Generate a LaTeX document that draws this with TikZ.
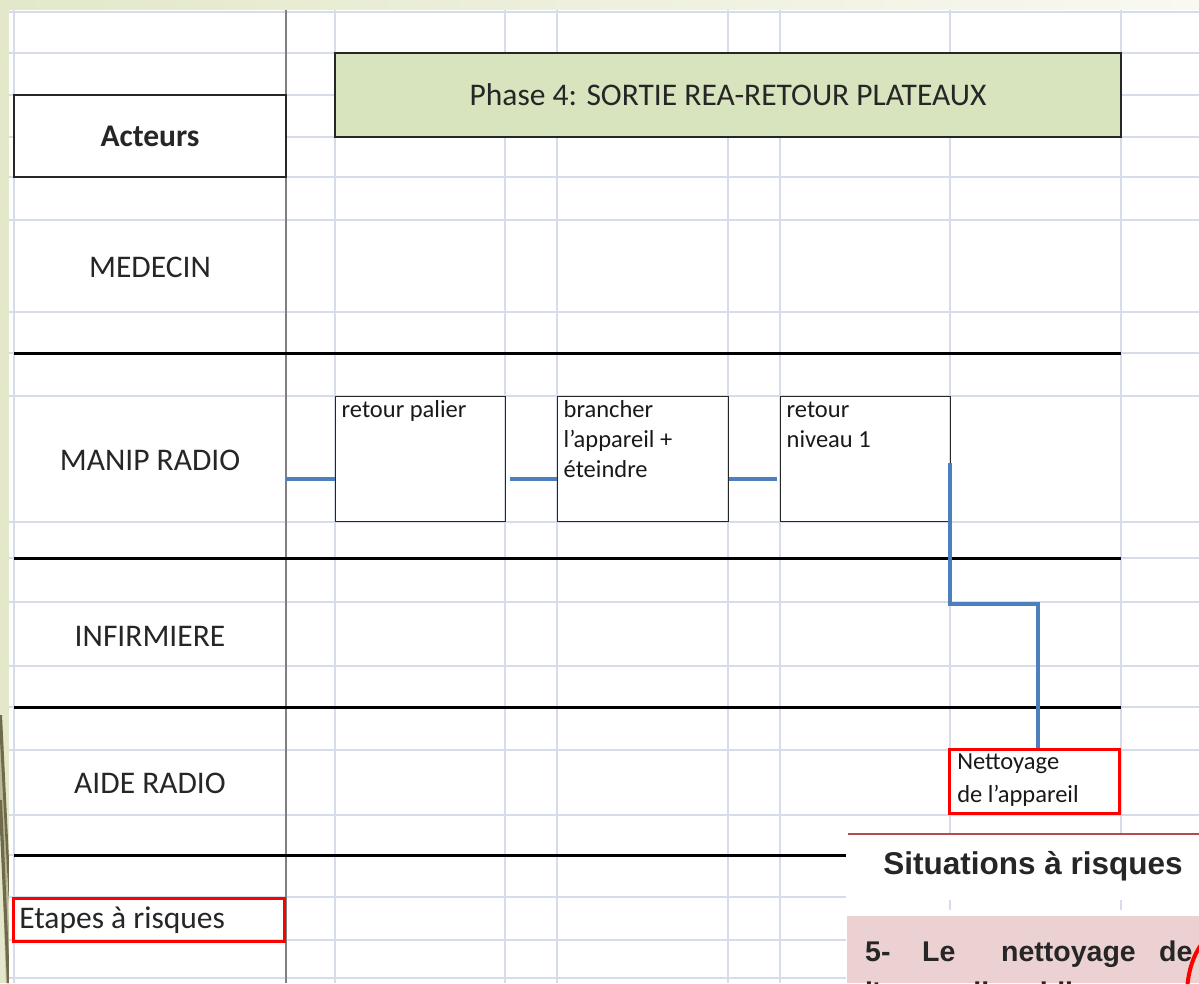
\documentclass[tikz,border=0pt]{standalone}
\usepackage{fontspec}
\setmainfont{Carlito}
\newfontfamily\arialf{Liberation Sans}
\definecolor{slidebg}{HTML}{E2E8C9}
\definecolor{slidebgr}{HTML}{F8F9F1}
\definecolor{gridc}{HTML}{D6DCE9}
\definecolor{flowc}{HTML}{4C7FBC}
\definecolor{greenf}{HTML}{D7E4BD}
\definecolor{pinkf}{HTML}{EBD1D1}
\definecolor{olive}{HTML}{6E6A4B}
\definecolor{olivel}{HTML}{B9B795}
\tikzset{
  gridl/.style={gridc, line width=1.2pt},
  lane/.style={black, line width=3pt},
  flow/.style={flowc, line width=4pt},
  bigfont/.style={font=\fontsize{31.5}{36}\selectfont},
  lbl/.style={bigfont, text=black!85},
  procbox/.style={draw=black!85, line width=1.4pt, anchor=north west, inner sep=0pt, align=left},
  riskbox/.style={draw=red, line width=2.5pt, anchor=north west, inner sep=0pt, align=left},
  small/.style={font=\fontsize{24.5}{30}\selectfont, text=black!90},
  panelfont/.style={font=\arialf\bfseries\fontsize{28.5}{32}\selectfont, text=black!85, anchor=base west, inner sep=0pt},
}
\begin{document}
\begin{tikzpicture}[x=1pt,y=-1pt]
\useasboundingbox (0,0) rectangle (1199,983);
\clip (0,0) rectangle (1199,983);
% slide background
\fill[slidebg] (0,0) rectangle (1199,983);
\shade[left color=slidebg, right color=slidebgr] (0,0) rectangle (1199,10);
\fill[olivel] (0,745) -- (3,745) -- (9,930) -- (9,983) -- (6,983) -- (0,800) -- cycle;
\fill[olive] (0,715) -- (2,715) -- (9,860) -- (9,905) -- (0,740) -- cycle;
\fill[olive] (0,800) -- (2,800) -- (9,960) -- (9,983) -- (7,983) -- (0,830) -- cycle;
\fill[white] (9,10) rectangle (1199,983);
% spreadsheet grid
\foreach \y in {12,53,95,137,177,220,312,353,396,522,558,602,666,707,750,815,855,897,940,978}
  \draw[gridl] (9,\y) -- (1199,\y);
\foreach \x in {14,335,505,557,728,780,950,1121}
  \draw[gridl] (\x,10) -- (\x,983);
\draw[black!50, line width=2pt] (286,10) -- (286,983);
% swimlane separators
\foreach \y in {353,558,707,855}
  \draw[lane] (14,\y) -- (1121,\y);
% header
\node[draw=black!85, line width=1.5pt, fill=white, minimum width=272pt, minimum height=82pt,
      font=\bfseries\fontsize{31.5}{36}\selectfont, text=black!85] (acteurs) at (150,136) {Acteurs};
\node[draw=black!85, line width=1.5pt, fill=greenf, minimum width=786pt, minimum height=84pt,
      lbl] (phase) at (728,95) {Phase 4: SORTIE REA-RETOUR PLATEAUX};
% actors
\node[lbl] (medecin) at (150,267) {MEDECIN};
\node[lbl] (manip) at (150,460) {MANIP RADIO};
\node[lbl] (infirmiere) at (150,636) {INFIRMIERE};
\node[lbl] (aide) at (150,783) {AIDE RADIO};
\node[riskbox, lbl] (etapes) at (12,897)
  {\parbox[c][43pt][c]{271pt}{\hspace*{6pt}Etapes à risques}};
% process boxes
\node[procbox, small] (b1) at (335,396) {\parbox[c][125pt][t]{170pt}{\leftskip=6pt\rule{0pt}{21pt}retour palier}};
\node[procbox, small] (b2) at (557,396) {\parbox[c][125pt][t]{171pt}{\leftskip=6pt\rule{0pt}{21pt}brancher\\l'appareil +\\éteindre}};
\node[procbox, small] (b3) at (780,396) {\parbox[c][125pt][t]{170pt}{\leftskip=6pt\rule{0pt}{21pt}retour\\niveau 1}};
\node[riskbox, small, font=\fontsize{24.5}{33}\selectfont] (nett) at (948,748)
  {\parbox[c][64pt][t]{170pt}{\leftskip=8pt\rule{0pt}{20pt}Nettoyage\\de l'appareil}};
% connectors
\coordinate (start) at (286,479);
\coordinate (drop) at (950,463);
\coordinate (bend) at (950,604);
\draw[flow] (start) -- (start -| b1.west);
\draw[flow] ([xshift=4pt]b1.east |- start) -- (b2.west |- start);
\draw[flow] (b2.east |- start) -- ([xshift=-3pt]b3.west |- start);
\draw[flow] (drop) -- (bend) -| ([xshift=4pt]nett.north);
% overlay panel (risk situations)
\fill[white] (846,834) rectangle (1199,983);
\draw[red!60!black!70, line width=1.2pt] (848,834) -- (1199,834);
\draw[gridl] (950,900) -- (950,910);
\draw[gridl] (1121,900) -- (1121,910);
\node[font=\arialf\bfseries\fontsize{31.5}{36}\selectfont, text=black!85] (sit) at (1033,866) {Situations à risques};
\fill[pinkf] (847,916) rectangle (1199,983);
\node[panelfont] (cas) at (865,961)
  {\makebox[57pt][l]{5-}\makebox[79pt][l]{Le}\makebox[158pt][l]{nettoyage}de};
\node[panelfont] (cas2) at (865,1002) {l'appareil mobile};
\draw[red, line width=4pt] (1227,995) circle[x radius=40pt, y radius=66pt];
\end{tikzpicture}
\end{document}
